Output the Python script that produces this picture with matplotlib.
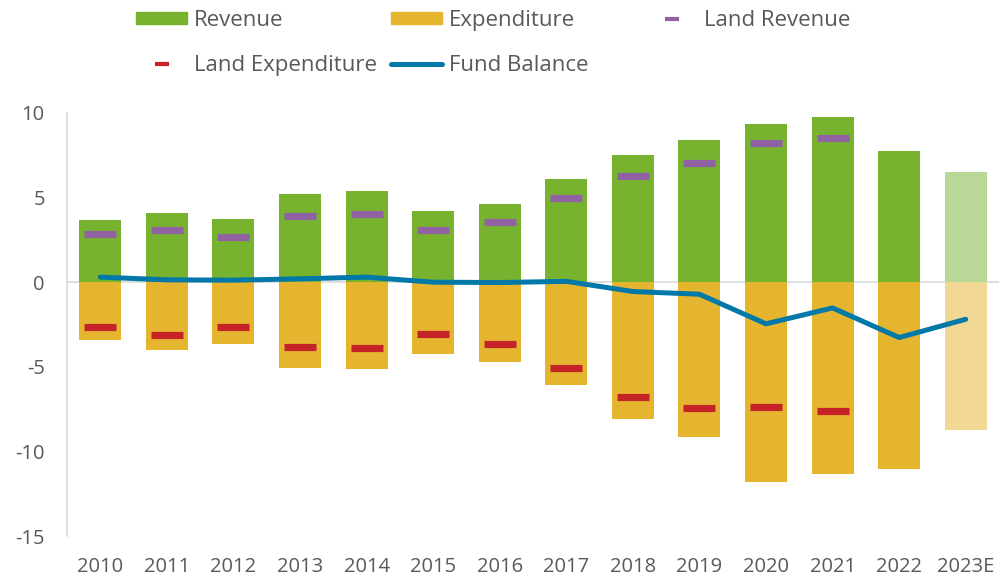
import matplotlib

matplotlib.use('Agg')

import matplotlib.pyplot as plt
from matplotlib.lines import Line2D
from matplotlib.patches import Patch
import numpy as np

plt.rcParams['font.family'] = ['Open Sans', 'DejaVu Sans']
plt.rcParams['axes.unicode_minus'] = False

years = ['2010', '2011', '2012', '2013', '2014', '2015', '2016',
         '2017', '2018', '2019', '2020', '2021', '2022', '2023E']
revenue = [3.68, 4.10, 3.74, 5.20, 5.40, 4.21, 4.63,
           6.12, 7.50, 8.41, 9.34, 9.77, 7.74, 6.52]
expenditure = [-3.41, -4.00, -3.63, -5.07, -5.14, -4.24, -4.69,
               -6.09, -8.06, -9.14, -11.80, -11.33, -11.05, -8.71]
land_revenue = [2.84, 3.07, 2.66, 3.90, 4.02, 3.07, 3.55,
                4.96, 6.26, 7.03, 8.21, 8.51]
land_expenditure = [-2.66, -3.13, -2.66, -3.84, -3.90, -3.07, -3.67,
                    -5.08, -6.80, -7.45, -7.39, -7.62]
fund_balance = [0.30, 0.14, 0.12, 0.20, 0.30, 0.00, -0.02,
                0.05, -0.55, -0.71, -2.46, -1.52, -3.27, -2.19]

GREEN = '#77B32F'
YELLOW = '#E6B530'
GREEN_E = '#B9D897'
YELLOW_E = '#F1D894'
PURPLE = '#9062A3'
RED = '#C42428'
BLUE = '#0078A8'
TEXT = '#595959'

x = np.arange(len(years))
rev_colors = [GREEN] * (len(years) - 1) + [GREEN_E]
exp_colors = [YELLOW] * (len(years) - 1) + [YELLOW_E]

fig = plt.figure(figsize=(9.99, 5.77), dpi=100)
ax = fig.add_axes([67 / 999, 1 - 536 / 577, 1 - 67 / 999, (536 - 113) / 577])

ax.bar(x, revenue, width=0.63, color=rev_colors, zorder=2)
ax.bar(x, expenditure, width=0.63, color=exp_colors, zorder=2)

xl = np.arange(len(land_revenue))
ax.plot(xl, land_revenue, ls='none', marker='_', ms=23, mew=5.2,
        color=PURPLE, zorder=3)
ax.plot(xl, land_expenditure, ls='none', marker='_', ms=23, mew=5.2,
        color=RED, zorder=3)
ax.plot(x, fund_balance, color=BLUE, lw=3.6, solid_capstyle='round',
        solid_joinstyle='round', zorder=4)

ax.axhline(0, color='#D9D9D9', lw=1.2, zorder=1)

ax.set_xlim(-0.5, len(years) - 0.5)
ax.set_ylim(-15, 10)
ax.set_yticks([-15, -10, -5, 0, 5, 10])
ax.set_xticks(x)
ax.set_xticklabels(years)
ax.tick_params(length=0, labelsize=14.5, colors=TEXT)
ax.tick_params(axis='x', pad=15)
ax.tick_params(axis='y', pad=16)

for s in ['top', 'right', 'bottom']:
    ax.spines[s].set_visible(False)
ax.spines['left'].set_color('#D9D9D9')
ax.spines['left'].set_linewidth(1.2)

# legend: three equal columns like the original
columns = [
    ([Patch(color=GREEN),
      Line2D([], [], ls='none', marker='_', ms=10, mew=3, color=RED)],
     ['Revenue', 'Land Expenditure'], 136),
    ([Patch(color=YELLOW),
      Line2D([], [], color=BLUE, lw=3.6, solid_capstyle='round')],
     ['Expenditure', 'Fund Balance'], 391),
    ([Line2D([], [], ls='none', marker='_', ms=10, mew=3, color=PURPLE)],
     ['Land Revenue'], 646),
]
for hs, ls, xpos in columns:
    leg = fig.legend(hs, ls, loc='upper left',
                     bbox_to_anchor=(xpos / 999, 1 - 10 / 577),
                     frameon=False, fontsize=16, handlelength=2.3,
                     handleheight=0.5, handletextpad=0.3,
                     labelspacing=1.1, borderpad=0, borderaxespad=0)
    for t in leg.get_texts():
        t.set_color(TEXT)

fig.savefig('out.png', dpi=100)
